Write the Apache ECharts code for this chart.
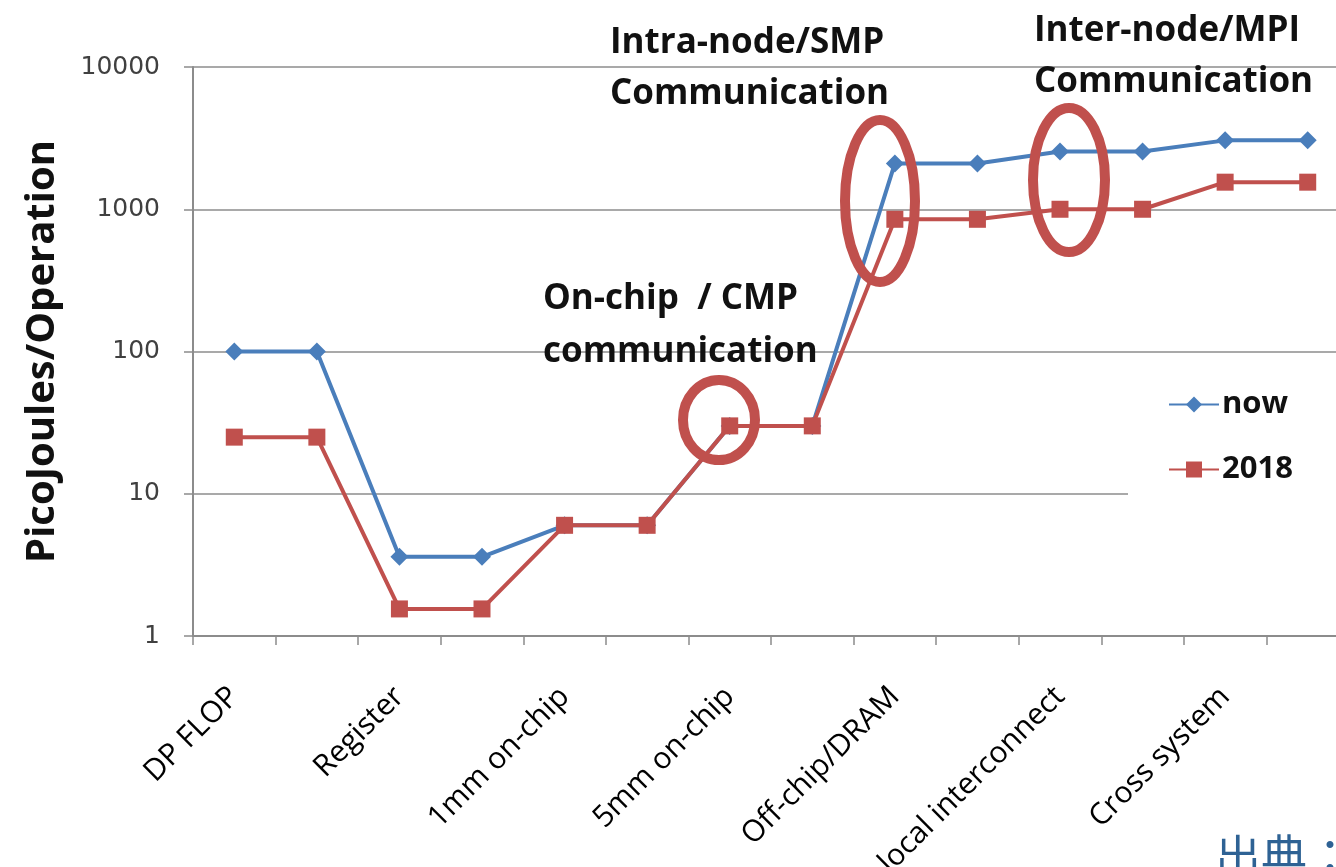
<!DOCTYPE html>
<html>
<head>
<meta charset="utf-8">
<script src="https://cdn.jsdelivr.net/npm/echarts@6/dist/echarts.min.js"></script>
<style>
html,body{margin:0;padding:0;background:#fff;}
#chart{width:1336px;height:867px;}
</style>
</head>
<body>
<div id="chart"></div>
<script>
// ---- data ----
var categories = ["DP FLOP", "", "Register", "", "1mm on-chip", "", "5mm on-chip", "", "Off-chip/DRAM", "", "local interconnect", "", "Cross system", ""];
var nowValues = [100, 100, 3.6, 3.6, 6, 6, 30, 30, 2100, 2100, 2550, 2550, 3050, 3050];
var values2018 = [25, 25, 1.55, 1.55, 6, 6, 30, 30, 850, 850, 1000, 1000, 1550, 1550];
var yTicks = [1, 10, 100, 1000, 10000];
var seriesNames = ["now", "2018"];
var annotations = [
  ["On-chip  / CMP", "communication"],
  ["Intra-node/SMP", "Communication"],
  ["Inter-node/MPI", "Communication"]
];
var sourceLabel = "出典：";

var blue = "#4a7ebb";
var red = "#c0504d";
var boldFont = "'Open Sans'";

function annText(str, x, y) {
  return { type: "text", x: x, y: y, style: { text: str, font: "bold 35px " + boldFont, fill: "#111", verticalAlign: "middle", align: "left" }, z: 11 };
}

var chart = echarts.init(document.getElementById("chart"));
var option = {
  backgroundColor: "#fff",
  animation: false,
  grid: { left: 193, top: 67, bottom: 231, right: -13, containLabel: false, outerBoundsMode: "none" },
  legend: {
    orient: "vertical",
    left: 1128,
    top: 369,
    padding: [20, 60, 20, 40],
    backgroundColor: "#fff",
    itemWidth: 50,
    itemHeight: 20,
    itemGap: 34,
    data: seriesNames,
    textStyle: { fontFamily: boldFont, fontWeight: "bold", fontSize: 31, color: "#111", padding: [0, 0, 0, -2] }
  },
  xAxis: {
    type: "category",
    data: categories,
    boundaryGap: true,
    axisLine: { show: true, lineStyle: { color: "#8c8c8c", width: 2 } },
    axisTick: { show: true, interval: 0, length: 9, lineStyle: { color: "#8c8c8c", width: 1.5 } },
    axisLabel: {
      interval: 0,
      rotate: 45,
      margin: 56,
      fontFamily: "'Open Sans'",
      fontSize: 30,
      color: "#000"
    },
    splitLine: { show: false }
  },
  yAxis: {
    type: "log",
    logBase: 10,
    min: yTicks[0],
    max: yTicks[yTicks.length - 1],
    name: "PicoJoules/Operation",
    nameLocation: "middle",
    nameRotate: 90,
    nameGap: 130,
    nameTextStyle: { fontFamily: boldFont, fontWeight: "bold", fontSize: 40, color: "#111" },
    axisLine: { show: true, lineStyle: { color: "#8c8c8c", width: 2 } },
    axisTick: { show: true, length: 9, lineStyle: { color: "#8c8c8c", width: 1.5 } },
    axisLabel: { margin: 33, fontFamily: "DejaVu Sans", fontSize: 25, color: "#404040", formatter: function (v) { return String(v); } },
    splitLine: { show: true, lineStyle: { color: "#8c8c8c", width: 1.5 } }
  },
  series: [
    {
      name: seriesNames[0],
      type: "line",
      data: nowValues,
      symbol: "diamond",
      symbolSize: 18,
      lineStyle: { color: blue, width: 4 },
      itemStyle: { color: blue },
      z: 3
    },
    {
      name: seriesNames[1],
      type: "line",
      data: values2018,
      symbol: "rect",
      symbolSize: 17,
      lineStyle: { color: red, width: 4 },
      itemStyle: { color: red },
      z: 4
    }
  ],
  graphic: [
    { type: "ellipse", shape: { cx: 719, cy: 420, rx: 36, ry: 40 }, style: { fill: "none", stroke: red, lineWidth: 10 }, z: 10 },
    { type: "ellipse", shape: { cx: 880, cy: 201, rx: 35, ry: 81 }, style: { fill: "none", stroke: red, lineWidth: 10 }, z: 10 },
    { type: "ellipse", shape: { cx: 1069, cy: 180, rx: 36, ry: 72 }, style: { fill: "none", stroke: red, lineWidth: 10 }, z: 10 },
    annText(annotations[0][0], 543, 299),
    annText(annotations[0][1], 543, 352),
    annText(annotations[1][0], 610, 43),
    annText(annotations[1][1], 610, 94),
    annText(annotations[2][0], 1034, 31),
    annText(annotations[2][1], 1034, 82),
    { type: "text", left: 1215, top: 833, style: { text: sourceLabel, font: "46px 'Noto Sans CJK JP'", fill: "#2e6294" }, z: 11 }
  ]
};
chart.setOption(option);
</script>
</body>
</html>
